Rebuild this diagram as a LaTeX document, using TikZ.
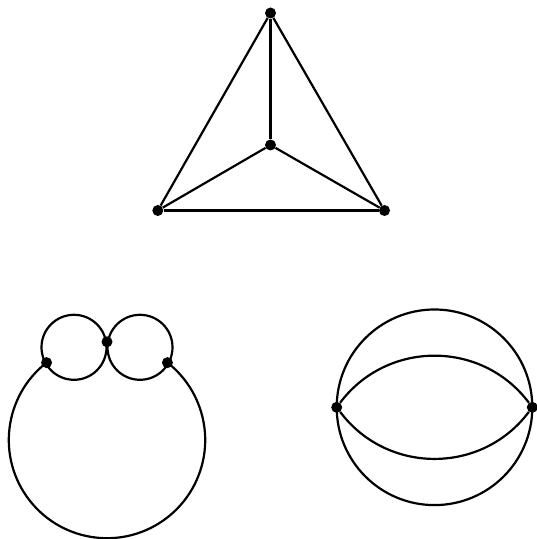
\documentclass[tikz,border=0pt]{standalone}
\usetikzlibrary{calc}
\begin{document}
\begin{tikzpicture}[x=1pt,y=1pt,
  vtx/.style={circle,fill=black,inner sep=0pt,minimum size=11pt},
  edge/.style={line width=2.2pt,black}]
\useasboundingbox (0,0) rectangle (537,539);
% K4
\node[vtx] (t) at (270.5,526) {};
\node[vtx] (c) at (270.5,394) {};
\node[vtx] (bl) at (157.8,328.5) {};
\node[vtx] (br) at (384.5,328.5) {};
\draw[edge] (t) -- (c);
\draw[edge] (t) -- (bl);
\draw[edge] (t) -- (br);
\draw[edge] (c) -- (bl);
\draw[edge] (c) -- (br);
\draw[edge] (bl) -- (br);
% left figure
\coordinate (lc1) at (74,191.7);
\coordinate (lc2) at (140,191.7);
\coordinate (lbig) at (107,99);
\node[vtx] (l) at ($(lbig)+(128:98.2)$) {};
\node[vtx] (r) at ($(lbig)+(52:98.2)$) {};
\node[vtx] (m) at (107,197.2) {};
\draw[edge] (lc1) circle[radius=32.5];
\draw[edge] (lc2) circle[radius=32.5];
\draw[edge] (l.center) arc[start angle=128,end angle=412,radius=98.2];
% right figure
\node[vtx] (a) at (336.7,131.7) {};
\node[vtx] (b) at (532.3,131.7) {};
\draw[edge] (a.center) arc[start angle=180,end angle=0,radius=97.8];
\draw[edge] (a.center) arc[start angle=180,end angle=360,radius=97.8];
\draw[edge] (a) to[out=53.13,in=126.87,looseness=1.065] (b);
\draw[edge] (a) to[out=-53.13,in=-126.87,looseness=1.065] (b);
\end{tikzpicture}
\end{document}
